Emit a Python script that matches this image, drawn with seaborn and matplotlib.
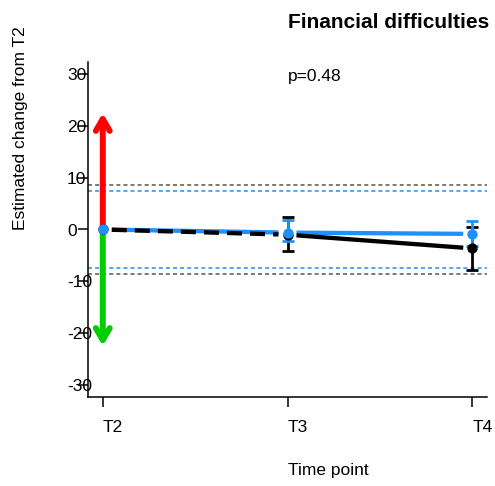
import numpy as np
import pandas as pd
import matplotlib
matplotlib.use("Agg")
import matplotlib.pyplot as plt
import matplotlib.transforms as mtransforms
import seaborn as sns

# ---------------- data ----------------
time_points = ["T2", "T3", "T4"]
black_est = [0.0, -1.0, -3.65]
black_lo = [0.0, -4.2, -7.8]
black_hi = [0.0, 2.4, 0.45]
blue_est = [0.0, -0.6, -0.85]
blue_lo = [0.0, -2.3, -3.2]
blue_hi = [0.0, 1.75, 1.55]
black_band = [-8.7, 8.7]
blue_band = [-7.5, 7.5]
arrow_up = 22.5
arrow_down = -22.5
y_ticks = [-30, -20, -10, 0, 10, 20, 30]
p_text = "p=0.48"
p_y = 29.5
title_text = "Financial difficulties"
xlabel_text = "Time point"
ylabel_text = "Estimated change from T2"

# ---------------- style ----------------
sns.set_theme(style="ticks")
plt.rcParams['font.family'] = ['Liberation Sans', 'DejaVu Sans']
plt.rcParams['lines.scale_dashes'] = False

BLUE = "#1E90FF"
GREEN = "#00CD00"
RED = "#FF0000"
FS = 12.5

W, H = 495, 486
fig = plt.figure(figsize=(W / 100, H / 100), dpi=100)
fig.patch.set_facecolor("white")
ax = fig.add_axes([88 / W, 1 - 397 / H, 399 / W, 335 / H])
ax.set_facecolor("white")
x = np.arange(len(time_points))
ax.set_xlim(-0.08, 2.08)
ax.set_ylim(-32.4, 32.4)


def gapped_segments(xs, ys, gap_px):
    pts = ax.transData.transform(np.column_stack([xs, ys]))
    inv = ax.transData.inverted()
    segs = []
    for i in range(len(pts) - 1):
        a, b = pts[i], pts[i + 1]
        d = b - a
        u = d / np.hypot(*d)
        seg = inv.transform(np.vstack([a + u * gap_px, b - u * gap_px]))
        segs.append(seg)
    return segs


# reference bands
for v in black_band:
    ax.axhline(v, color="#555555", lw=1.1, dashes=(2.9, 2.2), zorder=1)
for v in blue_band:
    ax.axhline(v, color=BLUE, lw=1.1, dashes=(2.9, 2.2), zorder=1)

# arrows
for tip, col in [(arrow_up, RED), (arrow_down, GREEN)]:
    ax.annotate("", xy=(x[0], tip), xytext=(x[0], 0),
                arrowprops=dict(arrowstyle="->,head_length=0.85,head_width=0.5",
                                color=col, lw=4.3, shrinkA=0, shrinkB=0,
                                mutation_scale=10),
                zorder=2)

# lines with gaps (type = "b")
for i, seg in enumerate(gapped_segments(x, blue_est, 9)):
    ax.plot(seg[:, 0], seg[:, 1], color=BLUE, lw=3.1, solid_capstyle="butt", zorder=3)
for i, seg in enumerate(gapped_segments(x, black_est, 9)):
    if i == 0:
        ax.plot(seg[:, 0], seg[:, 1], color="black", lw=3.1, dashes=(10.8, 5.8),
                dash_capstyle="butt", zorder=3.5)
    else:
        ax.plot(seg[:, 0], seg[:, 1], color="black", lw=3.1, solid_capstyle="butt", zorder=3)

# error bars
for est, lo, hi, col, z in [(black_est, black_lo, black_hi, "black", 4),
                            (blue_est, blue_lo, blue_hi, BLUE, 4.5)]:
    est, lo, hi = map(np.asarray, (est, lo, hi))
    m = hi > lo
    ax.errorbar(x[m], est[m], yerr=[est[m] - lo[m], hi[m] - est[m]], fmt="none",
                ecolor=col, elinewidth=2.0, capsize=4, capthick=2.0, zorder=z)

# points
df_black = pd.DataFrame({"time": x, "est": black_est})
df_blue = pd.DataFrame({"time": x, "est": blue_est})
sns.scatterplot(data=df_black, x="time", y="est", color="black", s=55,
                linewidth=0, ax=ax, zorder=5)
sns.scatterplot(data=df_blue, x="time", y="est", color=BLUE, s=55,
                linewidth=0, ax=ax, zorder=6)

# axes
ax.set_xticks(x)
ax.set_xticklabels(time_points, ha="left")
ax.set_yticks(y_ticks)
ax.set_yticklabels([str(v) for v in y_ticks], ha="left")
ax.tick_params(axis="both", length=7.2, width=1.1, color="black",
               labelsize=FS, labelcolor="black")
ax.tick_params(axis="y", pad=7.9)
ax.tick_params(axis="x", pad=9)
for s in ["top", "right"]:
    ax.spines[s].set_visible(False)
for s in ["left", "bottom"]:
    ax.spines[s].set_color("black")
    ax.spines[s].set_linewidth(1.1)

ax.set_xlabel(xlabel_text, ha="left", x=0.5, fontsize=FS, color="black")
ax.xaxis.set_label_coords(0.5, -0.196)
ax.set_ylabel(ylabel_text, ha="left", y=0.5, fontsize=FS, color="black")
ax.yaxis.set_label_coords(-0.150, 0.5)
ax.set_title(title_text, ha="left", x=0.5, y=1 + 34 / 335, pad=0,
             fontweight="bold", fontsize=15, color="black")
ax.text(0.5, p_y, p_text, transform=mtransforms.blended_transform_factory(ax.transAxes, ax.transData),
        ha="left", va="center", fontsize=FS, color="black")

fig.savefig("out.png", dpi=100)
